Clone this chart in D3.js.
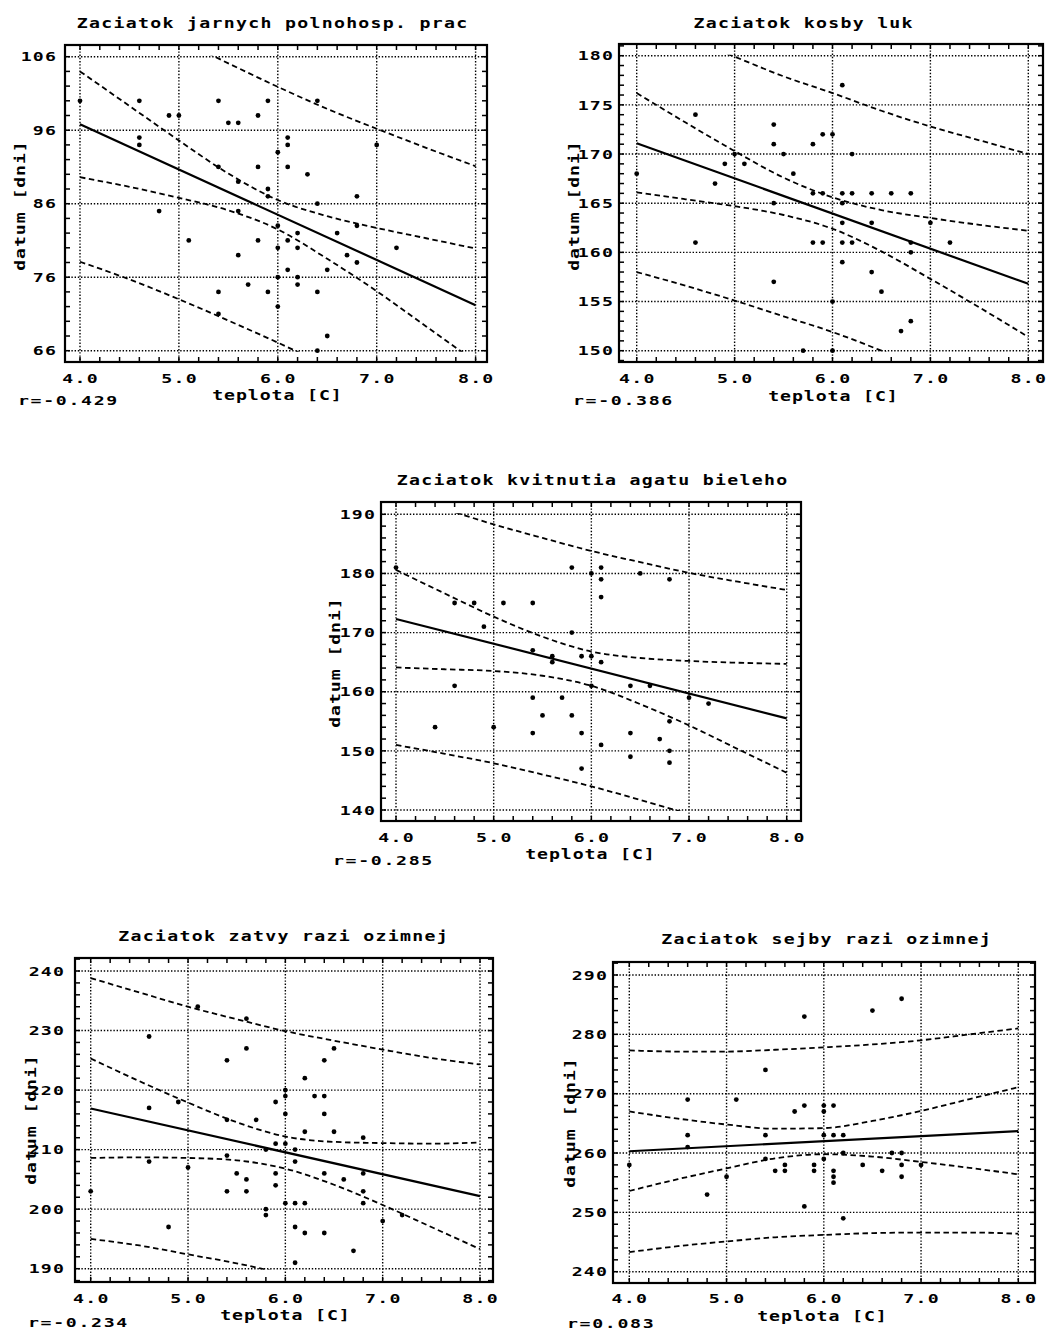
<!DOCTYPE html>
<html>
<head>
<meta charset="utf-8">
<script src="https://cdn.jsdelivr.net/npm/d3@7"></script>
<style>
body { margin: 0; background: #fff; }
text { font-family: 'DejaVu Sans Mono', monospace; font-weight: bold; fill: #000; }
</style>
</head>
<body>
<div id="canvas"></div>
<script>
// shared x values
const xTicks = [4.0, 5.0, 6.0, 7.0, 8.0]
const bandX = [4.0, 4.5, 5.0, 5.5, 6.0, 6.5, 7.0, 7.5, 8.0]

// 1 - jarne polnohospodarske prace
const p1Title = "Zaciatok jarnych polnohosp. prac"
const p1R = "r=-0.429"
const p1YTicks = [66, 76, 86, 96, 106]
const p1Points = [[4.0,100],[4.6,100],[4.6,95],[4.6,94],[4.9,98],[5.0,98],[4.8,85],[5.1,81],[5.4,100],[5.5,97],
  [5.6,97],[5.8,98],[5.9,100],[5.8,91],[5.4,91],[5.6,89],[5.9,88],[5.9,87],[5.6,85],[5.8,81],[5.6,79],[5.7,75],
  [5.4,74],[5.9,74],[5.4,71],[6.0,93],[6.0,83],[6.0,80],[6.0,76],[6.0,72],[6.1,95],[6.1,94],[6.1,91],[6.3,90],
  [6.2,82],[6.1,81],[6.2,80],[6.1,77],[6.2,76],[6.2,75],[6.4,74],[6.4,86],[6.4,100],[6.4,66],[6.5,77],[6.5,68],
  [6.6,82],[6.7,79],[6.8,87],[6.8,83],[6.8,78],[7.0,94],[7.2,80]]
const p1Fit = [96.8, 72.2]
const p1ConfHi = [104.0, 99.3, 94.6, 90.1, 86.5, 84.3, 82.7, 81.3, 79.9]
const p1ConfLo = [89.6, 88.3, 86.8, 85.1, 82.5, 78.5, 74.1, 69.3, 64.5]
const p1PredHi = [115.5, 111.9, 108.4, 105.1, 101.9, 98.9, 96.2, 93.6, 91.1]
const p1PredLo = [78.1, 75.7, 73.0, 70.1, 67.1, 63.9, 60.6, 57.0, 53.3]

// 2 - kosba luk
const p2Title = "Zaciatok kosby luk"
const p2R = "r=-0.386"
const p2YTicks = [150, 155, 160, 165, 170, 175, 180]
const p2Points = [[4.0,168],[4.6,174],[4.6,161],[4.8,167],[4.9,169],[5.0,170],[5.1,169],[5.4,173],[5.4,171],
  [5.4,165],[5.4,157],[5.5,170],[5.6,168],[5.7,150],[5.8,171],[5.8,166],[5.8,161],[5.9,172],[5.9,166],[5.9,161],
  [6.0,172],[6.0,155],[6.0,150],[6.1,177],[6.1,166],[6.1,165],[6.1,163],[6.1,161],[6.1,159],[6.2,170],[6.2,166],
  [6.2,161],[6.4,166],[6.4,163],[6.4,158],[6.5,156],[6.6,166],[6.7,152],[6.8,166],[6.8,161],[6.8,160],[6.8,153],
  [7.0,163],[7.2,161]]
const p2Fit = [171.1, 156.8]
const p2ConfHi = [176.2, 173.2, 170.3, 167.6, 165.6, 164.3, 163.5, 162.8, 162.2]
const p2ConfLo = [166.1, 165.4, 164.7, 163.8, 162.4, 160.1, 157.3, 154.4, 151.4]
const p2PredHi = [184.2, 181.9, 179.9, 177.9, 176.2, 174.4, 172.8, 171.4, 170.0]
const p2PredLo = [158.0, 156.6, 155.1, 153.5, 151.9, 150.0, 148.0, 145.8, 143.6]

// 3 - kvitnutie agatu
const p3Title = "Zaciatok kvitnutia agatu bieleho"
const p3R = "r=-0.285"
const p3YTicks = [140, 150, 160, 170, 180, 190]
const p3Points = [[4.0,181],[4.4,154],[4.6,175],[4.6,161],[4.8,175],[4.9,171],[5.0,154],[5.1,175],[5.4,175],
  [5.4,167],[5.4,159],[5.4,153],[5.5,156],[5.6,166],[5.6,165],[5.7,159],[5.8,181],[5.8,170],[5.8,156],[5.9,166],
  [5.9,153],[5.9,147],[6.0,180],[6.0,166],[6.0,161],[6.1,181],[6.1,179],[6.1,176],[6.1,165],[6.1,151],[6.4,161],
  [6.4,153],[6.4,149],[6.5,180],[6.6,161],[6.7,152],[6.8,179],[6.8,155],[6.8,150],[6.8,148],[7.0,159],[7.2,158]]
const p3Fit = [172.3, 155.5]
const p3ConfHi = [180.6, 176.6, 172.7, 169.3, 166.8, 165.7, 165.2, 164.9, 164.7]
const p3ConfLo = [164.1, 163.8, 163.5, 162.7, 161.0, 157.9, 154.3, 150.3, 146.3]
const p3PredHi = [193.7, 190.9, 188.3, 186.0, 183.8, 181.9, 180.1, 178.6, 177.2]
const p3PredLo = [151.0, 149.5, 147.9, 146.0, 144.0, 141.7, 139.3, 136.6, 133.8]

// 4 - zatva razi ozimnej
const p4Title = "Zaciatok zatvy razi ozimnej"
const p4R = "r=-0.234"
const p4YTicks = [190, 200, 210, 220, 230, 240]
const p4Points = [[4.0,203],[4.6,229],[4.6,217],[4.6,208],[4.8,197],[4.9,218],[5.0,207],[5.1,234],[5.4,225],
  [5.4,215],[5.4,209],[5.4,203],[5.5,206],[5.6,232],[5.6,227],[5.6,205],[5.6,203],[5.7,215],[5.8,210],[5.8,200],
  [5.8,199],[5.9,218],[5.9,211],[5.9,206],[5.9,204],[6.0,220],[6.0,219],[6.0,216],[6.0,211],[6.0,201],[6.1,210],
  [6.1,208],[6.1,201],[6.1,197],[6.1,191],[6.2,222],[6.2,213],[6.2,201],[6.2,196],[6.3,219],[6.4,225],[6.4,219],
  [6.4,216],[6.4,206],[6.4,196],[6.5,227],[6.5,213],[6.6,205],[6.7,193],[6.8,212],[6.8,206],[6.8,203],[6.8,201],
  [7.0,198],[7.2,199]]
const p4Fit = [216.9, 202.2]
const p4ConfHi = [225.3, 221.5, 217.9, 214.6, 212.2, 211.3, 211.1, 211.0, 211.2]
const p4ConfLo = [208.6, 208.7, 208.6, 208.2, 206.8, 204.1, 200.7, 197.0, 193.3]
const p4PredHi = [238.8, 236.4, 234.0, 231.9, 229.9, 228.3, 226.8, 225.4, 224.3]
const p4PredLo = [195.0, 193.9, 192.4, 190.9, 189.1, 187.1, 185.0, 182.6, 180.1]

// 5 - sejba razi ozimnej
const p5Title = "Zaciatok sejby razi ozimnej"
const p5R = "r=0.083"
const p5YTicks = [240, 250, 260, 270, 280, 290]
const p5Points = [[4.0,258],[4.6,269],[4.6,263],[4.6,261],[4.8,253],[5.0,256],[5.1,269],[5.4,274],[5.4,263],
  [5.4,259],[5.5,257],[5.6,258],[5.6,257],[5.7,267],[5.8,283],[5.8,268],[5.8,251],[5.9,258],[5.9,257],[6.0,268],
  [6.0,267],[6.0,263],[6.0,259],[6.1,268],[6.1,263],[6.1,257],[6.1,256],[6.1,255],[6.2,263],[6.2,260],[6.2,249],
  [6.4,258],[6.5,284],[6.6,257],[6.7,260],[6.8,286],[6.8,260],[6.8,258],[6.8,256],[7.0,258]]
const p5Fit = [260.3, 263.7]
const p5ConfHi = [267.0, 265.8, 264.8, 264.1, 264.2, 265.4, 267.1, 269.1, 271.1]
const p5ConfLo = [253.6, 255.6, 257.4, 259.1, 259.8, 259.4, 258.5, 257.5, 256.4]
const p5PredHi = [277.3, 277.1, 277.1, 277.4, 277.8, 278.3, 279.0, 280.0, 281.0]
const p5PredLo = [243.3, 244.3, 245.1, 245.8, 246.2, 246.5, 246.6, 246.6, 246.4]

const panels = [
  { title: p1Title, r: p1R, yTicks: p1YTicks, points: p1Points, fit: p1Fit,
    bands: [p1ConfHi, p1ConfLo, p1PredHi, p1PredLo], minor: 2 },
  { title: p2Title, r: p2R, yTicks: p2YTicks, points: p2Points, fit: p2Fit,
    bands: [p2ConfHi, p2ConfLo, p2PredHi, p2PredLo], minor: 1 },
  { title: p3Title, r: p3R, yTicks: p3YTicks, points: p3Points, fit: p3Fit,
    bands: [p3ConfHi, p3ConfLo, p3PredHi, p3PredLo], minor: 2 },
  { title: p4Title, r: p4R, yTicks: p4YTicks, points: p4Points, fit: p4Fit,
    bands: [p4ConfHi, p4ConfLo, p4PredHi, p4PredLo], minor: 2 },
  { title: p5Title, r: p5R, yTicks: p5YTicks, points: p5Points, fit: p5Fit,
    bands: [p5ConfHi, p5ConfLo, p5PredHi, p5PredLo], minor: 2 }
]

// pixel layout of each panel
const layout = [
  { x: [80, 475.6], y: [350.7, 56.7], box: [65, 45, 487, 362], title: [272, 28],
    ylab: [25, 206], xlab: [277, 400], xtick: 383, ytickEnd: 56, r: [18, 405] },
  { x: [636.7, 1028.3], y: [350.7, 55.7], box: [619, 44, 1043, 362], title: [803, 28],
    ylab: [579, 206], xlab: [833, 401], xtick: 383, ytickEnd: 613, r: [573, 405] },
  { x: [396, 786.7], y: [810, 514.3], box: [381, 502, 801, 821], title: [592, 485],
    ylab: [340, 663], xlab: [590, 859], xtick: 842, ytickEnd: 375, r: [333, 865] },
  { x: [90.7, 480], y: [1268.7, 971], box: [75, 958, 493, 1282], title: [283, 941],
    ylab: [36, 1120], xlab: [285, 1320], xtick: 1303, ytickEnd: 64, r: [28, 1327] },
  { x: [629.3, 1018.3], y: [1271.7, 975], box: [613, 962, 1035, 1283], title: [826, 944],
    ylab: [575, 1123], xlab: [822, 1321], xtick: 1303, ytickEnd: 607, r: [567, 1328] }
]

const width = 1047
const height = 1331

const svg = d3.select("#canvas").append("svg")
  .attr("width", width)
  .attr("height", height)

// wide blocky text: glyphs stretched horizontally like the old plotter font
function label(g, x, y, str, o) {
  const sx = o.sx || 1.4, ls = o.ls == null ? 0.9 : o.ls
  const anchor = o.anchor || "start"
  const shift = anchor === "middle" ? ls / 2 : anchor === "end" ? ls : 0
  g.append("g")
    .attr("transform", `translate(${x},${y}) rotate(${o.rot || 0}) scale(${sx},1)`)
    .append("text")
    .attr("x", shift)
    .attr("dy", o.dy || 0)
    .attr("text-anchor", anchor)
    .attr("font-size", o.size || 13)
    .attr("letter-spacing", ls)
    .text(str)
}

panels.forEach((p, i) => drawPanel(p, layout[i], i))

function drawPanel(p, L, i) {
  const yMin = d3.min(p.yTicks), yMax = d3.max(p.yTicks)
  const x = d3.scaleLinear().domain([4, 8]).range(L.x)
  const y = d3.scaleLinear().domain([yMin, yMax]).range(L.y)
  const [bx0, by0, bx1, by1] = L.box
  const g = svg.append("g")

  // clip for curves: the data rectangle
  g.append("clipPath").attr("id", "clip" + i)
    .append("rect")
    .attr("x", x(4) - 1).attr("y", y(yMax) - 1)
    .attr("width", x(8) - x(4) + 2).attr("height", y(yMin) - y(yMax) + 2)

  // dotted grid
  g.selectAll(".vg").data(xTicks).enter().append("line")
    .attr("x1", d => x(d)).attr("x2", d => x(d))
    .attr("y1", by0).attr("y2", by1)
    .attr("stroke", "#000").attr("stroke-width", 1.4).attr("stroke-dasharray", "1.4,1.8")
  g.selectAll(".hg").data(p.yTicks).enter().append("line")
    .attr("x1", bx0).attr("x2", bx1)
    .attr("y1", d => y(d)).attr("y2", d => y(d))
    .attr("stroke", "#000").attr("stroke-width", 1.4).attr("stroke-dasharray", "1.4,1.8")

  // minor ticks, inward on all sides
  const xm = d3.range(40, 81, 2).map(v => v / 10).filter(v => x(v) > bx0 + 1 && x(v) < bx1 - 1)
  const yLo = Math.ceil(y.invert(by1) / p.minor) * p.minor
  const ym = d3.range(yLo, y.invert(by0), p.minor).filter(v => y(v) > by0 + 1 && y(v) < by1 - 1)
  const tl = 5
  const ticks = g.append("g").attr("stroke", "#000").attr("stroke-width", 1.5)
  xm.forEach(v => {
    ticks.append("line").attr("x1", x(v)).attr("x2", x(v)).attr("y1", by1).attr("y2", by1 - tl)
    ticks.append("line").attr("x1", x(v)).attr("x2", x(v)).attr("y1", by0).attr("y2", by0 + tl)
  })
  ym.forEach(v => {
    ticks.append("line").attr("x1", bx0).attr("x2", bx0 + tl).attr("y1", y(v)).attr("y2", y(v))
    ticks.append("line").attr("x1", bx1).attr("x2", bx1 - tl).attr("y1", y(v)).attr("y2", y(v))
  })

  // frame
  g.append("rect")
    .attr("x", bx0).attr("y", by0)
    .attr("width", bx1 - bx0).attr("height", by1 - by0)
    .attr("fill", "none").attr("stroke", "#000").attr("stroke-width", 2.2)

  // bands
  const line = d3.line()
    .x(d => x(d[0]))
    .y(d => y(d[1]))
    .curve(d3.curveMonotoneX)
  const curves = g.append("g").attr("clip-path", `url(#clip${i})`)
  p.bands.forEach(b => {
    curves.append("path")
      .datum(bandX.map((v, k) => [v, b[k]]))
      .attr("d", line)
      .attr("fill", "none").attr("stroke", "#000")
      .attr("stroke-width", 1.8).attr("stroke-dasharray", "5.5,3.5")
  })
  curves.append("path")
    .datum([[4, p.fit[0]], [8, p.fit[1]]])
    .attr("d", line)
    .attr("fill", "none").attr("stroke", "#000").attr("stroke-width", 2.2)

  // points
  g.selectAll(".pt").data(p.points).enter().append("circle")
    .attr("cx", d => x(d[0])).attr("cy", d => y(d[1]))
    .attr("r", 2.4).attr("fill", "#000")

  // tick labels
  xTicks.forEach(v => label(g, x(v), L.xtick, d3.format(".1f")(v), { anchor: "middle" }))
  p.yTicks.forEach(v => label(g, L.ytickEnd, y(v), v, { anchor: "end", dy: "0.36em" }))

  // titles and labels
  label(g, L.title[0], L.title[1], p.title, { anchor: "middle", size: 14, sx: 1.3, ls: 1.0 })
  label(g, L.xlab[0], L.xlab[1], "teplota [C]", { anchor: "middle", size: 14, sx: 1.3, ls: 0.7 })
  label(g, L.ylab[0], L.ylab[1], "datum [dni]", { anchor: "middle", size: 14, sx: 1.3, ls: 0.7, rot: -90 })
  label(g, L.r[0], L.r[1], p.r, { size: 13, sx: 1.4, ls: 1.2 })
}
</script>
</body>
</html>
